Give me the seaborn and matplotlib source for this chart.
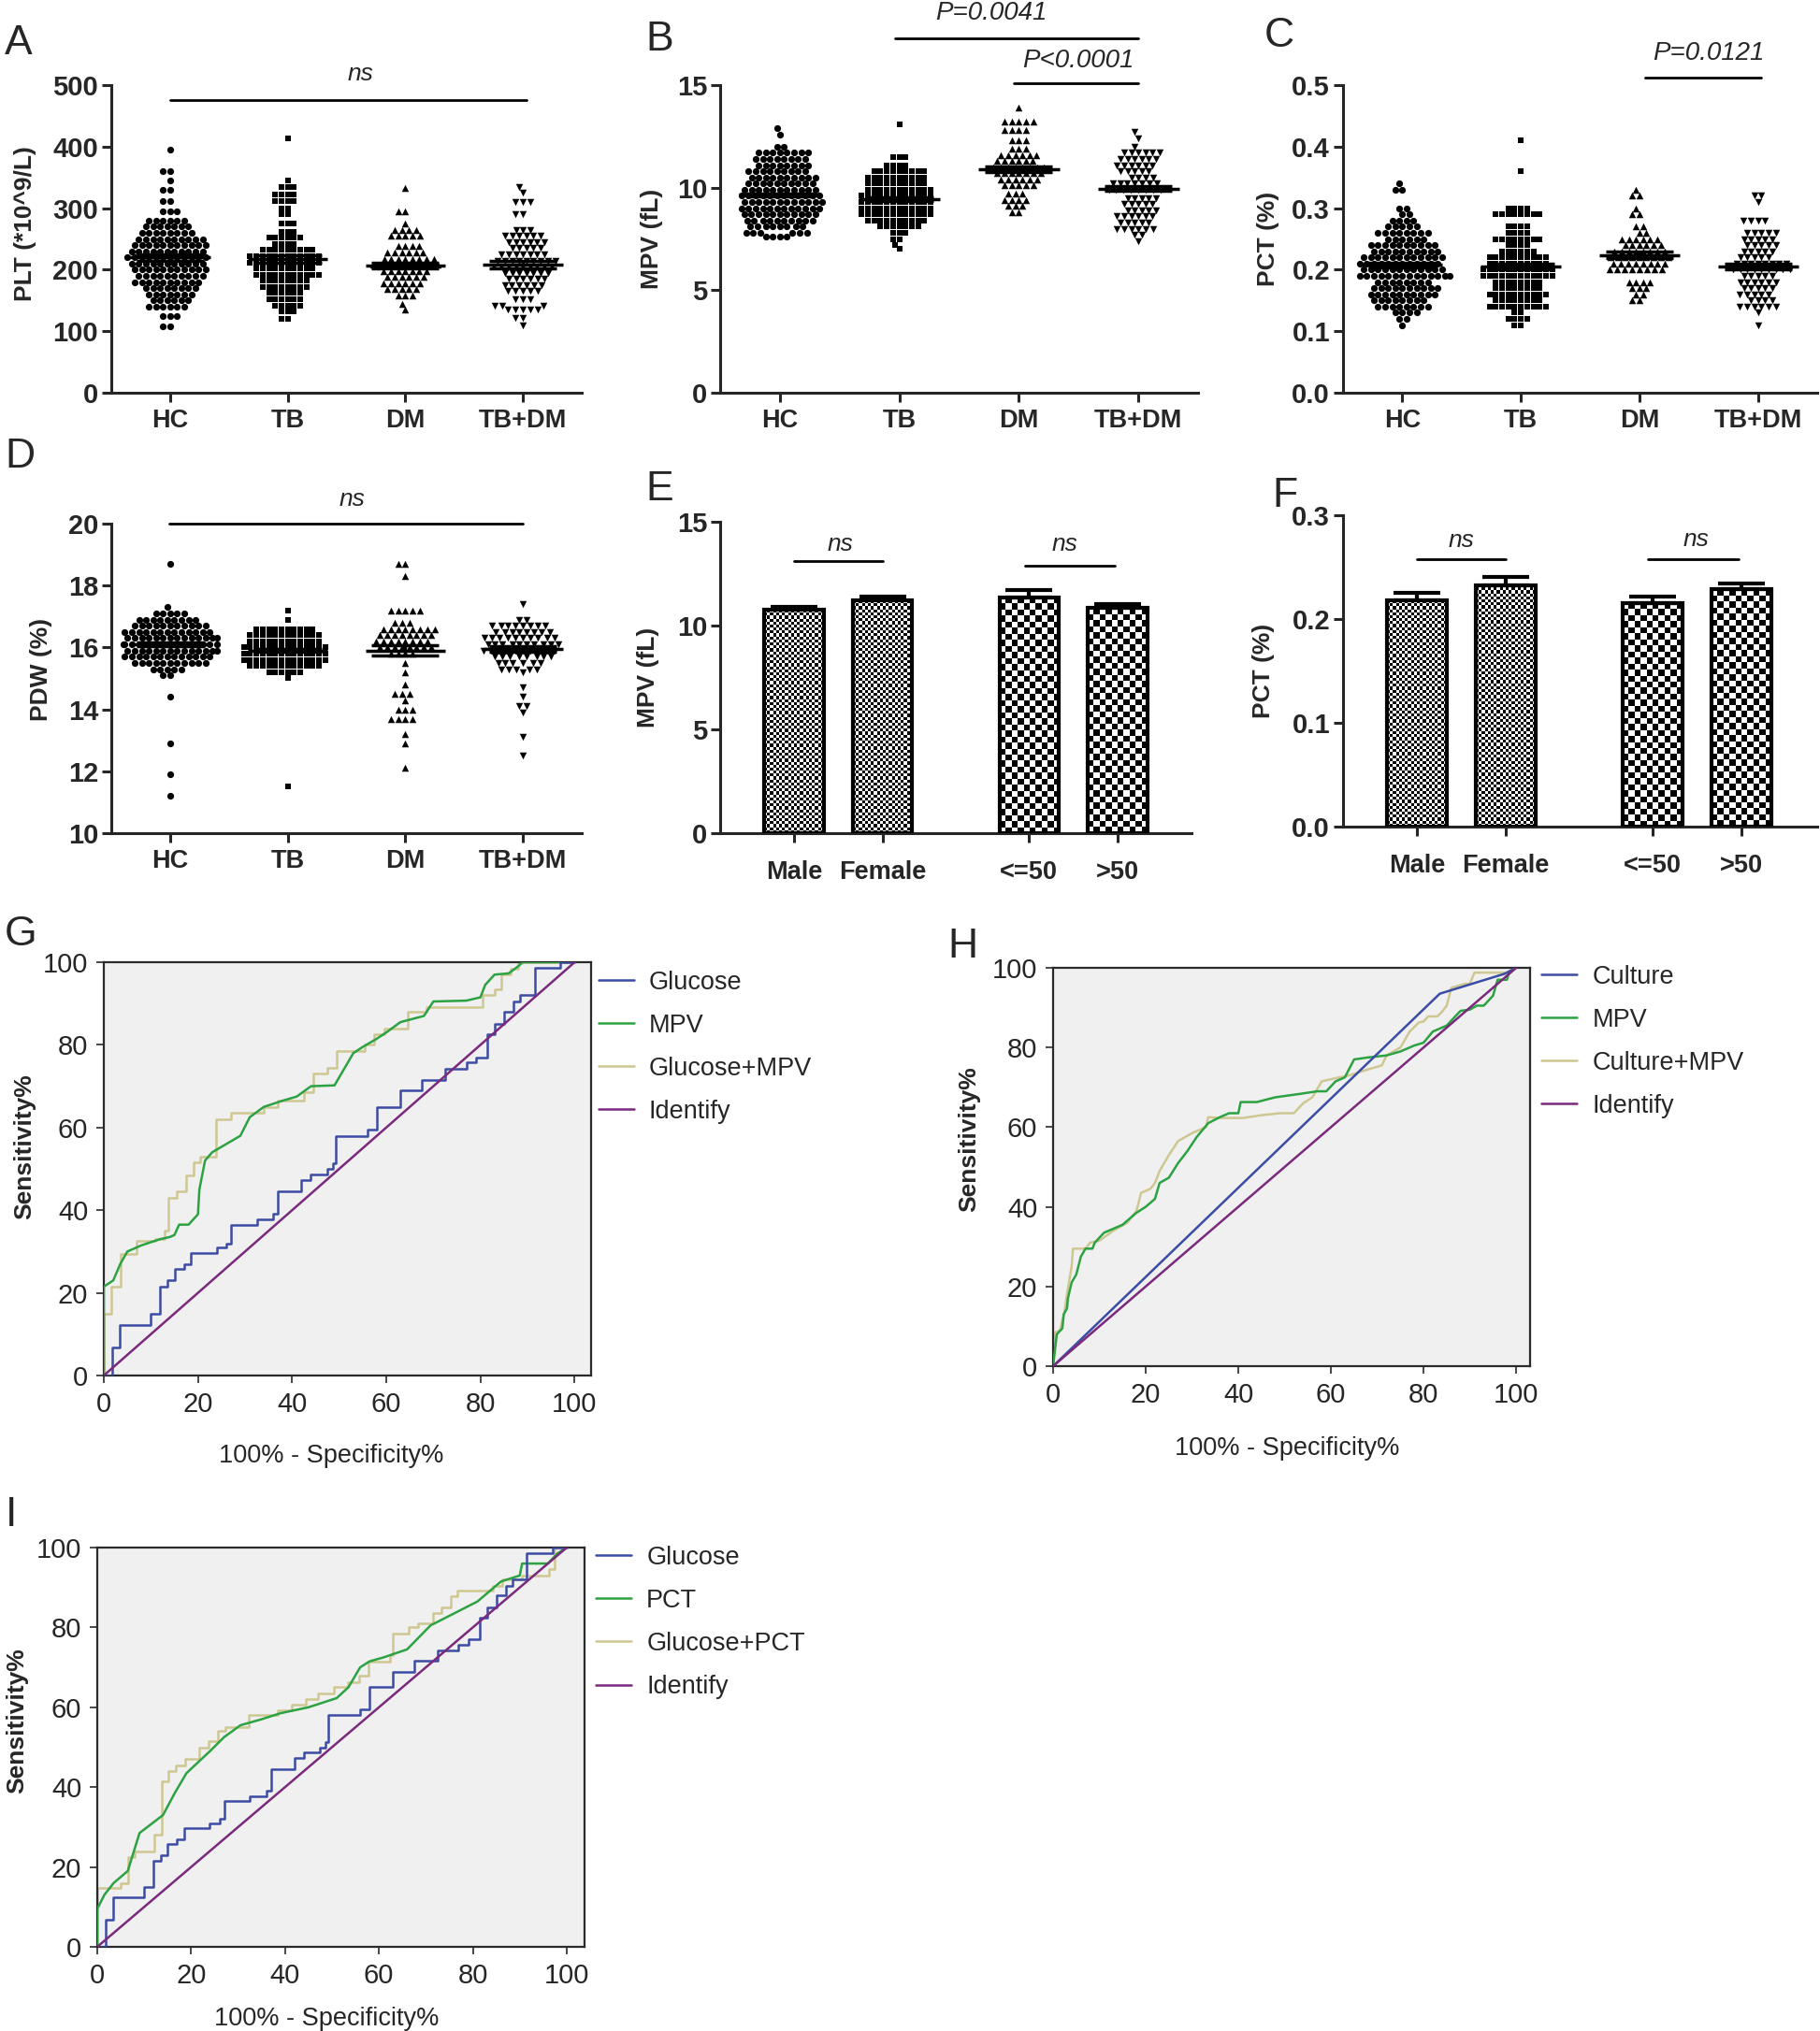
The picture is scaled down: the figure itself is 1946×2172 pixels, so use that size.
import warnings
import numpy as np
import pandas as pd
import matplotlib
matplotlib.use("Agg")
import matplotlib.pyplot as plt
import seaborn as sns

warnings.filterwarnings("ignore")

W, H, DPI = 1946, 2172, 100

sns.set_style("ticks")
plt.rcParams["font.family"] = ["Liberation Sans", "DejaVu Sans"]

# ---------------- dot plots A-D : row values and number of points on each row
groups = ["HC", "TB", "DM", "TB+DM"]
markers = ["o", "s", "^", "v"]
marker_size = [5.2, 4.6, 5.4, 5.4]

plt_hc_vals = [108, 125, 140, 150, 160, 170, 180, 190, 200, 210, 220, 230, 240, 250, 260, 270, 280, 295, 312, 330, 345, 360, 395]
plt_hc_n = [2, 3, 6, 6, 7, 8, 10, 10, 11, 11, 12, 11, 11, 10, 8, 7, 6, 3, 2, 2, 1, 2, 1]
plt_tb_vals = [120, 132, 142, 152, 162, 172, 182, 192, 202, 212, 222, 232, 242, 252, 262, 275, 290, 300, 312, 322, 335, 345, 413]
plt_tb_n = [2, 3, 5, 6, 6, 8, 8, 11, 10, 12, 12, 9, 4, 6, 3, 3, 2, 2, 4, 4, 3, 1, 1]
plt_dm_vals = [135, 145, 158, 168, 178, 188, 198, 208, 218, 228, 238, 255, 265, 275, 295, 333]
plt_dm_n = [1, 1, 3, 5, 6, 6, 7, 10, 8, 6, 4, 5, 4, 1, 2, 1]
plt_tbdm_vals = [110, 122, 135, 142, 152, 165, 175, 185, 195, 205, 215, 225, 235, 245, 255, 265, 290, 310, 325, 335]
plt_tbdm_n = [1, 2, 5, 3, 3, 5, 6, 6, 7, 9, 9, 7, 5, 6, 6, 3, 2, 3, 1, 1]
plt_mean = [220, 218, 207, 208]
plt_sem = [5, 6, 5, 6]

mpv_hc_vals = [7.6, 7.8, 8.1, 8.4, 8.7, 9.0, 9.3, 9.6, 9.9, 10.2, 10.5, 10.8, 11.1, 11.4, 11.7, 12.0, 12.6, 12.9]
mpv_hc_n = [4, 6, 8, 10, 11, 12, 12, 12, 11, 10, 10, 9, 8, 8, 8, 2, 1, 1]
mpv_tb_vals = [7.0, 7.2, 7.5, 7.8, 8.1, 8.4, 8.7, 9.0, 9.3, 9.6, 9.9, 10.2, 10.5, 10.8, 11.1, 11.5, 13.1]
mpv_tb_n = [1, 1, 2, 3, 7, 10, 12, 12, 12, 12, 11, 10, 10, 9, 4, 3, 1]
mpv_dm_vals = [8.8, 9.1, 9.4, 9.7, 10.1, 10.4, 10.7, 11.0, 11.3, 11.6, 11.9, 12.3, 12.8, 13.2, 13.9]
mpv_dm_n = [2, 3, 4, 3, 5, 6, 7, 8, 6, 6, 3, 3, 4, 5, 1]
mpv_tbdm_vals = [7.4, 7.7, 8.0, 8.3, 8.6, 8.9, 9.2, 9.5, 9.9, 10.2, 10.5, 10.8, 11.1, 11.4, 11.7, 12.0, 12.4, 12.7]
mpv_tbdm_n = [1, 2, 6, 5, 6, 5, 5, 5, 8, 7, 4, 5, 6, 6, 6, 1, 1, 1]
mpv_mean = [9.65, 9.45, 10.9, 9.95]
mpv_sem = [0.08, 0.09, 0.13, 0.12]

pct_hc_vals = [0.11, 0.12, 0.13, 0.14, 0.15, 0.16, 0.17, 0.18, 0.19, 0.20, 0.21, 0.22, 0.23, 0.24, 0.25, 0.26, 0.27, 0.28, 0.29, 0.30, 0.33, 0.34]
pct_hc_n = [1, 2, 4, 8, 8, 10, 10, 8, 14, 12, 12, 12, 10, 10, 6, 8, 5, 4, 2, 2, 2, 1]
pct_tb_vals = [0.11, 0.12, 0.13, 0.14, 0.15, 0.16, 0.17, 0.18, 0.19, 0.20, 0.21, 0.22, 0.23, 0.24, 0.25, 0.26, 0.27, 0.29, 0.30, 0.36, 0.41]
pct_tb_n = [2, 4, 2, 10, 8, 10, 8, 8, 12, 12, 10, 10, 6, 4, 8, 4, 4, 8, 4, 1, 1]
pct_dm_vals = [0.15, 0.16, 0.17, 0.18, 0.20, 0.21, 0.22, 0.23, 0.24, 0.25, 0.26, 0.27, 0.29, 0.30, 0.32, 0.33]
pct_dm_n = [2, 2, 3, 4, 8, 8, 9, 8, 6, 6, 2, 2, 2, 1, 2, 1]
pct_tbdm_vals = [0.11, 0.13, 0.14, 0.15, 0.16, 0.17, 0.18, 0.19, 0.20, 0.21, 0.22, 0.23, 0.24, 0.25, 0.26, 0.28, 0.31, 0.32]
pct_tbdm_n = [1, 1, 6, 4, 5, 5, 6, 5, 9, 8, 5, 5, 5, 5, 5, 4, 1, 2]
pct_mean = [0.208, 0.205, 0.224, 0.205]
pct_sem = [0.004, 0.005, 0.005, 0.005]

pdw_hc_vals = [11.2, 11.9, 12.9, 14.4, 15.1, 15.3, 15.5, 15.7, 15.9, 16.1, 16.3, 16.5, 16.7, 16.9, 17.1, 17.3, 18.7]
pdw_hc_n = [1, 1, 1, 1, 2, 5, 11, 13, 14, 15, 14, 13, 11, 9, 5, 1, 1]
pdw_tb_vals = [11.5, 15.0, 15.2, 15.4, 15.6, 15.8, 16.0, 16.2, 16.4, 16.6, 16.9, 17.2]
pdw_tb_n = [1, 1, 6, 12, 14, 14, 14, 12, 12, 10, 1, 1]
pdw_dm_vals = [12.1, 12.9, 13.2, 13.7, 14.0, 14.3, 14.5, 14.8, 15.2, 15.5, 15.8, 16.0, 16.2, 16.4, 16.6, 16.8, 17.2, 18.3, 18.7]
pdw_dm_n = [1, 1, 1, 4, 3, 1, 3, 1, 1, 1, 4, 8, 8, 8, 8, 3, 5, 1, 2]
pdw_tbdm_vals = [12.5, 13.1, 13.9, 14.1, 14.4, 14.7, 15.2, 15.3, 15.5, 15.7, 15.9, 16.1, 16.3, 16.5, 16.7, 16.9, 17.4]
pdw_tbdm_n = [1, 1, 1, 2, 1, 1, 1, 5, 6, 8, 10, 10, 10, 8, 8, 2, 1]
pdw_mean = [16.1, 15.9, 15.9, 15.95]
pdw_sem = [0.06, 0.04, 0.17, 0.08]

# ---------------- bar panels E-F
bar_groups = ["Male", "Female", "<=50", ">50"]
bar_x = [0, 1, 2.65, 3.65]
mpv_bar = [10.75, 11.2, 11.35, 10.85]
mpv_bar_sem = [0.17, 0.2, 0.38, 0.18]
pct_bar = [0.218, 0.2326, 0.2151, 0.2287]
pct_bar_sem = [0.0068, 0.0075, 0.0067, 0.0051]

# ---------------- ROC curves (100% - specificity, sensitivity)
glu_x = [0, 1.8, 3.4, 10, 12, 13.5, 15, 17, 18.5, 24, 26, 27, 32.5, 36, 37, 42, 44, 47.5, 48.7, 49.2, 56, 58, 63, 67.5, 72.5, 77, 79, 81.5, 83, 85, 87, 88.5, 91.5, 97, 100]
glu_y = [0, 6.8, 12.3, 15, 21.5, 23, 25.7, 27, 29.7, 31, 32, 36.5, 37.8, 39.2, 44.6, 47.3, 48.6, 50, 51.3, 58, 59.5, 65, 68.9, 71.6, 74.3, 75.7, 77, 82.5, 85, 88, 90.5, 92, 98.6, 100, 100]
g_mpv_x = [0, 0, 2, 3.5, 5, 8, 12, 14, 15, 16, 18, 20, 20.3, 21.5, 23, 26, 29, 31, 34, 38, 41, 44, 49, 53, 55, 58, 60, 63, 68, 70, 77, 80, 81, 83, 86, 88, 89, 100]
g_mpv_y = [0, 21.5, 23, 27, 30, 31.5, 33, 33.5, 34, 36.5, 36.5, 39, 45, 52, 54, 56, 58, 62.5, 65, 66.5, 67.5, 70, 70.2, 78, 79.5, 81.5, 83, 85.5, 87, 90.5, 90.7, 91.5, 94.5, 97, 97.3, 99, 100, 100]
g_comb_x = [0, 0, 1.5, 3.5, 7, 11, 13, 13.7, 15.5, 17.5, 19, 20.5, 23.8, 27, 34, 37, 42.5, 44.5, 47.5, 49.5, 55.5, 57.5, 59.5, 64.5, 68.5, 80.5, 83, 84.5, 86.5, 88, 100]
g_comb_y = [0, 15, 21.5, 29.5, 32.5, 33, 35, 43, 44.5, 48.5, 51.5, 53, 62, 63.5, 65, 66.5, 68.5, 73, 74.5, 78.5, 80, 82.5, 84, 88, 89.2, 92, 93.5, 97, 98.5, 100, 100]

h_cul_x = [0, 83.5, 97.5, 100]
h_cul_y = [0, 93.5, 98.5, 100]
h_mpv_x = [0, 0.8, 2, 2.3, 3, 3.2, 4, 5, 6, 7, 8.5, 9, 11, 13, 15, 18, 20, 22, 23, 25, 27, 29, 31, 33.5, 36, 38, 40, 40.5, 44, 48, 53, 57, 59, 61, 63, 65, 68, 72, 75, 78, 80, 82, 85, 87, 88, 90, 91.5, 93, 95, 96, 98, 98.5, 100]
h_mpv_y = [0, 8, 9.5, 13, 14.5, 17, 21, 23, 27.5, 29.5, 29.5, 31, 33.5, 34.5, 35.5, 38.5, 40, 42, 46, 47.3, 51, 54, 57.5, 61, 62.5, 63.5, 63.5, 66.3, 66.3, 67.5, 68.3, 69, 69, 71.5, 72.5, 77, 77.5, 78, 79, 80.5, 81.2, 84, 85.5, 88, 89.2, 89.5, 90.5, 90.5, 93, 97, 97, 99, 100]
h_comb_x = [0, 0.5, 1.5, 2.5, 3, 4, 4.3, 7, 8, 10, 13, 16, 18, 19, 21, 22, 23, 25, 27, 30, 33, 33.5, 36, 41, 45, 49, 52, 54, 56, 58, 61, 64, 68, 71, 72, 75, 77, 79, 80, 81, 83, 84, 85, 86, 89, 90, 91, 95, 98, 100]
h_comb_y = [0, 8.5, 9, 14, 18, 25, 29.5, 29.5, 31, 31.5, 34, 36, 39, 43.5, 44.5, 46, 49, 53, 56.5, 58.5, 60, 62.5, 62.3, 62.3, 63, 63.5, 63.5, 66, 67.5, 71.5, 72.3, 73, 74.5, 75.5, 78, 80, 84, 86.3, 86.5, 87.8, 87.8, 89, 90.5, 95, 96, 96, 98.8, 98.8, 98.8, 100]

i_pct_x = [0, 0, 1.5, 3.5, 6.5, 9, 14, 16.5, 19, 24, 27, 30.5, 35, 39, 45, 51, 53.5, 56, 58, 61, 66, 71, 76, 81, 86, 90, 90.5, 96, 98, 100]
i_pct_y = [0, 9.5, 13, 16, 19, 28.5, 33, 38.5, 43.5, 49, 52.5, 55.5, 57, 58.5, 60, 62.3, 65, 70, 71.5, 72.5, 74.5, 80.5, 83.5, 86.5, 91.5, 93, 96, 96, 98.5, 100]
i_comb_x = [0, 0, 5, 6.5, 8, 12.2, 13.8, 15.2, 16.8, 18.8, 21.8, 23.8, 25.8, 27.2, 32.3, 38.5, 41.5, 44.5, 47, 50.5, 53.3, 55.8, 57.8, 62.3, 63, 66.3, 68.3, 71.5, 73.3, 75.3, 76.8, 84.3, 86.3, 90.5, 96.3, 97.5, 100]
i_comb_y = [0, 14.7, 16, 22.5, 24, 28, 41.5, 44, 45.5, 47, 49.8, 51.5, 54, 55, 58, 59.3, 60.6, 62, 63.5, 65, 66.3, 68, 71.5, 73, 78.5, 80, 81, 83.7, 85, 87.8, 89.2, 90.5, 92, 93, 94.5, 100, 100]
diag = [0, 100]

BLUE, GREEN, KHAKI, PURPLE = "#3b4ca4", "#2ca243", "#cfc792", "#7a2a7c"

fig = plt.figure(figsize=(W / DPI, H / DPI), dpi=DPI)


def add_ax(l, t, r, b):
    return fig.add_axes([l / W, 1 - b / H, (r - l) / W, (b - t) / H])


def gp_style(ax, xlim, ylim, yticks, ylabels, xticks, xlabels, ylabel, ylab_xy, xpad=5):
    ax.set_xlim(xlim)
    ax.set_ylim(ylim)
    ax.set_yticks(yticks)
    ax.set_yticklabels(ylabels, fontsize=21, fontweight="bold")
    ax.set_xticks(xticks)
    ax.set_xticklabels(xlabels, fontsize=19.5, fontweight="bold")
    for s in ["top", "right"]:
        ax.spines[s].set_visible(False)
    for s in ["left", "bottom"]:
        ax.spines[s].set_linewidth(2.2)
    ax.tick_params(direction="out", length=7, width=2.2, pad=3)
    ax.tick_params(axis="x", pad=xpad)
    ax.set_xlabel("")
    ax.set_ylabel(ylabel, fontsize=19, fontweight="bold")
    ax.yaxis.set_label_coords(*ylab_xy)


def dot_panel(ax, vals, counts, means, sems, ylim, yticks, ylabels, ylabel, ylab_xy):
    for g, m, ms, v, n in zip(groups, markers, marker_size, vals, counts):
        d = pd.DataFrame({"group": g, "value": np.repeat(v, n)})
        sns.swarmplot(data=d, x="group", y="value", order=groups, marker=m,
                      color="black", size=ms, linewidth=0, ax=ax)
    x = np.arange(len(groups))
    ax.hlines(means, x - 0.34, x + 0.34, color="black", lw=2.5, zorder=5)
    ax.errorbar(x, means, yerr=sems, fmt="none", ecolor="black", elinewidth=2.5,
                capsize=26, capthick=2.5, zorder=5)
    gp_style(ax, (-0.5, 3.5), ylim, yticks, ylabels, x, groups, ylabel, ylab_xy)


def sig(ax, x0, x1, y, tx, ty, text, size=19):
    ax.plot([x0, x1], [y, y], color="black", lw=2, clip_on=False)
    ax.text(tx, ty, text, ha="center", va="center", fontsize=size, style="italic", clip_on=False)


def checker(ax, patch, cell):
    x0, y0 = patch.get_x(), patch.get_y()
    x1, y1 = x0 + patch.get_width(), y0 + patch.get_height()
    (px0, py0), (px1, py1) = ax.transData.transform([(x0, y0), (x1, y1)])
    nx = max(1, int(round((px1 - px0) / cell)))
    ny = max(1, int(round((py1 - py0) / cell)))
    board = np.indices((ny, nx)).sum(axis=0) % 2
    im = ax.imshow(board, cmap="gray_r", extent=(x0, x1, y0, y1), origin="lower",
                   interpolation="nearest", aspect="auto", zorder=1.5)
    im.set_clip_path(patch)


def bar_panel(ax, vals, sems, xlim, ylim, yticks, ylabels, ylabel, ylab_xy):
    ax.set_xlim(xlim)
    ax.set_ylim(ylim)
    bars = ax.bar(bar_x, vals, width=0.67, facecolor="none", edgecolor="black", linewidth=3, zorder=3)
    for patch, cell in zip(bars.patches, [3.2, 3.2, 6.5, 6.5]):
        checker(ax, patch, cell)
    ax.errorbar(bar_x, vals, yerr=[np.zeros(len(vals)), sems], fmt="none", ecolor="black",
                elinewidth=3, capsize=18, capthick=3, zorder=4)
    gp_style(ax, xlim, ylim, yticks, ylabels, bar_x, bar_groups, ylabel, ylab_xy, xpad=14)


def roc_panel(ax, curves, labels, xmax, leg_xy, ylab_xy, xlab_xy):
    ax.set_facecolor("#f0f0f0")
    colors = [BLUE, GREEN, KHAKI, PURPLE]
    for (xs, ys, step), c, lab, z in zip(curves, colors, labels, [4, 3, 2, 5]):
        ax.plot(xs, ys, color=c, lw=1.8, label=lab, zorder=z,
                drawstyle="steps-post" if step else "default")
    ax.set_xlim(0, xmax)
    ax.set_ylim(0, 100)
    ax.set_xticks([0, 20, 40, 60, 80, 100])
    ax.set_yticks([0, 20, 40, 60, 80, 100])
    for s in ax.spines.values():
        s.set_color("#2a2a2a")
        s.set_linewidth(1.6)
    ax.tick_params(direction="out", length=6, width=1.2, labelsize=21, pad=6, color="#2a2a2a")
    ax.set_ylabel("Sensitivity%", fontsize=19, fontweight="bold")
    ax.yaxis.set_label_coords(*ylab_xy)
    ax.set_xlabel("100% - Specificity%", fontsize=19.5)
    ax.xaxis.set_label_coords(*xlab_xy)
    ax.legend(loc="upper left", bbox_to_anchor=leg_xy, frameon=False, fontsize=19.5,
              handlelength=1.4, handletextpad=0.6, labelspacing=0.74,
              borderpad=0, borderaxespad=0)


# ---------------- top rows
axA = add_ax(119, 91, 622, 420)
dot_panel(axA, [plt_hc_vals, plt_tb_vals, plt_dm_vals, plt_tbdm_vals],
          [plt_hc_n, plt_tb_n, plt_dm_n, plt_tbdm_n], plt_mean, plt_sem,
          (0, 500), [0, 100, 200, 300, 400, 500], ["0", "100", "200", "300", "400", "500"],
          "PLT (*10^9/L)", (-0.16, 0.55))
sig(axA, 0, 3.03, 475, 1.62, 518, "ns")

axB = add_ax(770, 91, 1281, 420)
dot_panel(axB, [mpv_hc_vals, mpv_tb_vals, mpv_dm_vals, mpv_tbdm_vals],
          [mpv_hc_n, mpv_tb_n, mpv_dm_n, mpv_tbdm_n], mpv_mean, mpv_sem,
          (0, 15), [0, 5, 10, 15], ["0", "5", "10", "15"], "MPV (fL)", (-0.12, 0.5))
sig(axB, 0.96, 3.0, 17.3, 1.77, 18.5, "P=0.0041", 20)
sig(axB, 1.96, 3.0, 15.1, 2.5, 16.2, "P<0.0001", 20)

axC = add_ax(1436, 91, 1943, 420)
dot_panel(axC, [pct_hc_vals, pct_tb_vals, pct_dm_vals, pct_tbdm_vals],
          [pct_hc_n, pct_tb_n, pct_dm_n, pct_tbdm_n], pct_mean, pct_sem,
          (0, 0.5), [0, 0.1, 0.2, 0.3, 0.4, 0.5], ["0.0", "0.1", "0.2", "0.3", "0.4", "0.5"],
          "PCT (%)", (-0.135, 0.5))
sig(axC, 2.05, 3.03, 0.512, 2.58, 0.552, "P=0.0121", 20)

axD = add_ax(119, 560, 622, 891)
dot_panel(axD, [pdw_hc_vals, pdw_tb_vals, pdw_dm_vals, pdw_tbdm_vals],
          [pdw_hc_n, pdw_tb_n, pdw_dm_n, pdw_tbdm_n], pdw_mean, pdw_sem,
          (10, 20), [10, 12, 14, 16, 18, 20], ["10", "12", "14", "16", "18", "20"],
          "PDW (%)", (-0.125, 0.53))
sig(axD, -0.01, 3.0, 20, 1.55, 20.8, "ns")

axE = add_ax(770, 558, 1274, 891)
bar_panel(axE, mpv_bar, mpv_bar_sem, (-0.83, 4.48), (0, 15), [0, 5, 10, 15],
          ["0", "5", "10", "15"], "MPV (fL)", (-0.128, 0.5))
sig(axE, 0, 1, 13.1, 0.52, 13.9, "ns")
sig(axE, 2.6, 3.62, 12.9, 3.05, 13.9, "ns")

axF = add_ax(1436, 551, 1943, 884)
bar_panel(axF, pct_bar, pct_bar_sem, (-0.83, 4.5), (0, 0.3), [0, 0.1, 0.2, 0.3],
          ["0.0", "0.1", "0.2", "0.3"], "PCT (%)", (-0.143, 0.5))
sig(axF, 0, 1, 0.258, 0.5, 0.276, "ns")
sig(axF, 2.6, 3.62, 0.258, 3.14, 0.277, "ns")

# ---------------- ROC panels
axG = add_ax(111, 1029, 632, 1471)
roc_panel(axG, [(glu_x, glu_y, True), (g_mpv_x, g_mpv_y, False),
                (g_comb_x, g_comb_y, True), (diag, diag, False)],
          ["Glucose", "MPV", "Glucose+MPV", "Identify"], 103.5,
          (1.015, 0.98), (-0.139, 0.555), (0.466, -0.165))

axH = add_ax(1126, 1035, 1636, 1461)
roc_panel(axH, [(h_cul_x, h_cul_y, False), (h_mpv_x, h_mpv_y, False),
                (h_comb_x, h_comb_y, False), (diag, diag, False)],
          ["Culture", "MPV", "Culture+MPV", "Identify"], 103,
          (1.024, 1.008), (-0.152, 0.57), (0.49, -0.175))

axI = add_ax(104, 1655, 625, 2082)
roc_panel(axI, [(glu_x, glu_y, True), (i_pct_x, i_pct_y, False),
                (i_comb_x, i_comb_y, True), (diag, diag, False)],
          ["Glucose", "PCT", "Glucose+PCT", "Identify"], 103.8,
          (1.023, 1.005), (-0.142, 0.567), (0.47, -0.15))

# ---------------- panel letters
for letter, (px, py) in zip("ABCDEFGHI", [(5, 46), (690, 42), (1352, 39), (5, 488), (690, 524),
                                          (1360, 530), (5, 1000), (1013, 1012), (6, 1620)]):
    fig.text(px / W, 1 - py / H, letter, fontsize=32, ha="left", va="center")

fig.savefig("out.png", dpi=DPI)
